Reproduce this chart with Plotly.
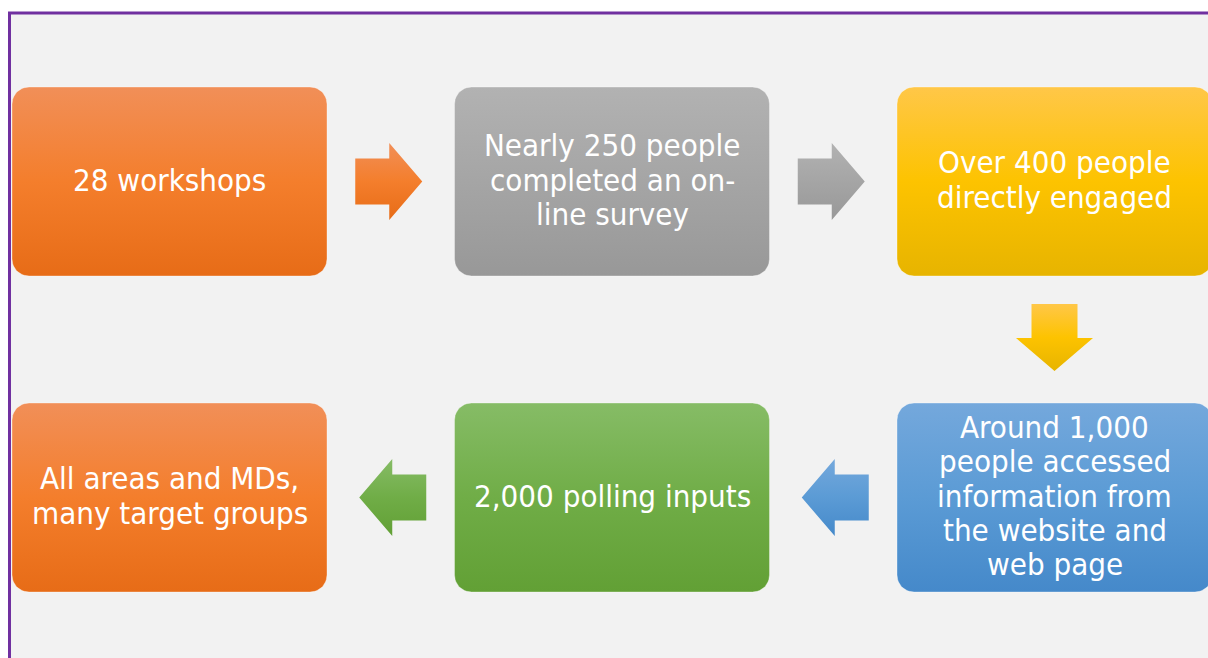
import numpy as np
import plotly.graph_objects as go

# ---- content ----
step_lines = [
    ["28 workshops"],
    ["Nearly 250 people", "completed an on-", "line survey"],
    ["Over 400 people", "directly engaged"],
    ["Around 1,000", "people accessed", "information from", "the website and", "web page"],
    ["2,000 polling inputs"],
    ["All areas and MDs,", "many target groups"],
]
step_col = [0, 1, 2, 2, 1, 0]
step_row = [0, 0, 0, 1, 1, 1]
color_top = ["#F18F58", "#B2B2B2", "#FFC748", "#74A8DC", "#86BC66", "#F18F58"]
color_mid = ["#F47E2C", "#A5A5A5", "#FDC300", "#5B9BD5", "#70AD47", "#F47E2C"]
color_bot = ["#E76C17", "#989898", "#E7B400", "#4589CA", "#62A035", "#E76C17"]

# ---- layout geometry (page pixels) ----
W, H = 1208, 658
COL_X = [12, 454.5, 897]
ROW_Y = [87, 403]
BW, BH, R = 315, 189, 17
LINE_H = 34.3
FONT = "DejaVu Sans Condensed, DejaVu Sans, sans-serif"
FS = 31

fig = go.Figure()


def rounded_rect(x0, y0, w, h, r):
    xs, ys = [], []
    corners = [(x0 + w - r, y0 + r, -90, 0), (x0 + w - r, y0 + h - r, 0, 90),
               (x0 + r, y0 + h - r, 90, 180), (x0 + r, y0 + r, 180, 270)]
    for cx, cy, a0, a1 in corners:
        t = np.radians(np.linspace(a0, a1, 12))
        xs += list(cx + r * np.cos(t))
        ys += list(cy + r * np.sin(t))
    xs.append(xs[0]); ys.append(ys[0])
    return xs, ys


def grad(i):
    return dict(type="vertical",
                colorscale=[[0, color_bot[i]], [0.5, color_mid[i]], [1, color_top[i]]])


# boxes
for i, lines in enumerate(step_lines):
    x0 = COL_X[step_col[i]]
    y0 = ROW_Y[step_row[i]]
    xs, ys = rounded_rect(x0, y0, BW, BH, R)
    fig.add_trace(go.Scatter(x=xs, y=ys, mode="lines", fill="toself",
                             fillgradient=grad(i),
                             line=dict(color="rgba(255,255,255,0.35)", width=1),
                             hoverinfo="skip", showlegend=False))
    cx = x0 + BW / 2
    cy = y0 + BH / 2
    n = len(lines)
    for k, t in enumerate(lines):
        fig.add_annotation(x=cx, y=cy + (k - (n - 1) / 2) * LINE_H - 2, text=t,
                           showarrow=False, xanchor="center", yanchor="middle",
                           font=dict(family=FONT, size=FS, color="white"))

# arrows between consecutive steps
AL, AH, SH, HL = 67, 77, 46, 33
for i in range(len(step_lines) - 1):
    c0, r0 = step_col[i], step_row[i]
    c1, r1 = step_col[i + 1], step_row[i + 1]
    if r0 == r1:
        d = 1 if c1 > c0 else -1
        ga = max(COL_X[c0], COL_X[c1])
        gb = min(COL_X[c0], COL_X[c1]) + BW
        gc = (ga + gb) / 2 - 2 * d
        cy = ROW_Y[r0] + BH / 2
        tail = gc - d * AL / 2
        base = tail + d * (AL - HL)
        tip = gc + d * AL / 2
        xs = [tail, base, base, tip, base, base, tail, tail]
        ys = [cy - SH / 2, cy - SH / 2, cy - AH / 2, cy, cy + AH / 2, cy + SH / 2, cy + SH / 2, cy - SH / 2]
    else:
        cx = COL_X[c0] + BW / 2
        ga = ROW_Y[r0] + BH
        gb = ROW_Y[r1]
        gc = (ga + gb) / 2 - 2
        tail = gc - AL / 2
        base = tail + (AL - HL)
        tip = gc + AL / 2
        ys = [tail, base, base, tip, base, base, tail, tail]
        xs = [cx - SH / 2, cx - SH / 2, cx - AH / 2, cx, cx + AH / 2, cx + SH / 2, cx + SH / 2, cx - SH / 2]
    fig.add_trace(go.Scatter(x=xs, y=ys, mode="lines", fill="toself",
                             fillgradient=grad(i), line=dict(width=0),
                             hoverinfo="skip", showlegend=False))

# frame
fig.add_shape(type="rect", x0=9.5, y0=13, x1=W + 50, y1=H + 50, layer="below",
              fillcolor="#F2F2F2", line=dict(color="#7030A0", width=3))

fig.update_xaxes(range=[0, W], visible=False, fixedrange=True)
fig.update_yaxes(range=[H, 0], visible=False, fixedrange=True)
fig.update_layout(width=W, height=H, margin=dict(l=0, r=0, t=0, b=0),
                  paper_bgcolor="white", plot_bgcolor="white")

fig.write_html("out.html",
               config={"displayModeBar": False},
               post_script="document.body.style.margin='0px';document.body.style.overflow='hidden';")
